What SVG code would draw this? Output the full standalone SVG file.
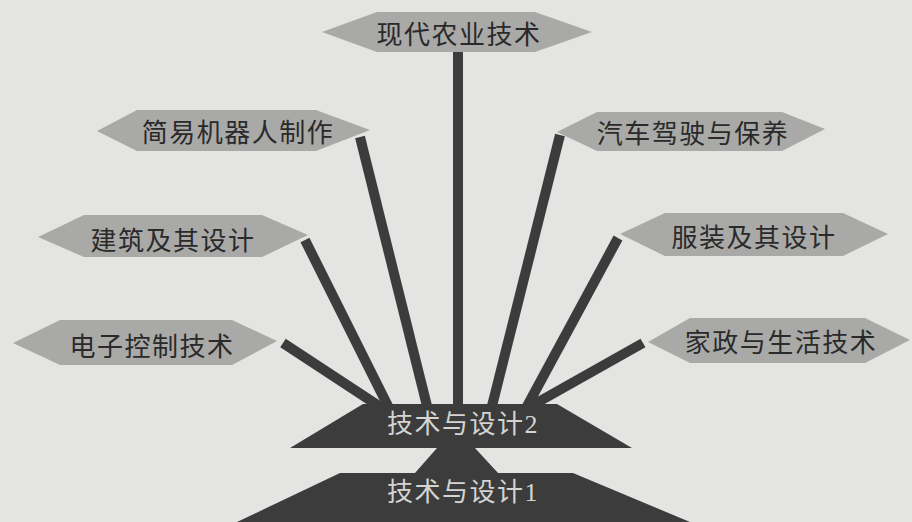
<svg xmlns="http://www.w3.org/2000/svg" width="912" height="522" viewBox="0 0 912 522">
<style>
.bg{fill:#e4e4e2}
.hex{fill:#a9a9a7}
.lbl{font-family:"Noto Sans CJK SC","Noto Sans",sans-serif;font-size:26px;letter-spacing:1.5px;fill:#2a2a2a;text-anchor:middle;dominant-baseline:central}
.base{fill:#3c3c3c}
.blbl{font-family:"Liberation Serif","Noto Sans CJK SC",serif;font-size:26px;letter-spacing:1.5px;fill:#d4d4d2;text-anchor:middle;dominant-baseline:central}
.con line{stroke:#3c3c3c;stroke-width:10;stroke-linecap:butt}
</style>
<rect class="bg" x="0" y="0" width="912" height="522"/>
<g id="connectors" class="con">
<line x1="458" y1="50" x2="458" y2="410"/>
<line x1="360" y1="137" x2="428" y2="410"/>
<line x1="305" y1="240" x2="390" y2="410"/>
<line x1="283" y1="343" x2="385" y2="410"/>
<line x1="560" y1="135" x2="491" y2="410"/>
<line x1="618" y1="238" x2="525" y2="410"/>
<line x1="643" y1="343" x2="524" y2="410"/>
</g>
<g id="node-xiandai">
<polygon class="hex" points="322,32 377,12 535,12 592,32 535,52 377,52"/>
<text class="lbl" x="459" y="32">现代农业技术</text>
</g>
<g id="node-jianyi">
<polygon class="hex" points="97,131 137,110 316,110 370,130 316,151 137,151"/>
<text class="lbl" x="238" y="130">简易机器人制作</text>
</g>
<g id="node-qiche">
<polygon class="hex" points="557,132 597,112 782,112 825,129 782,151 597,151"/>
<text class="lbl" x="693" y="131">汽车驾驶与保养</text>
</g>
<g id="node-jianzhu">
<polygon class="hex" points="38,237 84,215 262,215 308,235 262,257 84,257"/>
<text class="lbl" x="173" y="238">建筑及其设计</text>
</g>
<g id="node-fuzhuang">
<polygon class="hex" points="620,234 665,213 843,213 888,234 843,256 665,256"/>
<text class="lbl" x="754" y="235">服装及其设计</text>
</g>
<g id="node-dianzi">
<polygon class="hex" points="13,343 60,320 232,320 277,341 232,365 60,365"/>
<text class="lbl" x="152" y="344">电子控制技术</text>
</g>
<g id="node-jiazheng">
<polygon class="hex" points="648,342 690,318 865,318 910,340 865,363 690,363"/>
<text class="lbl" x="781" y="340">家政与生活技术</text>
</g>
<g id="node-design1">
<polygon class="base" points="237,522 340,473 415,473 437,448 475,448 498,473 573,473 690,522"/>
<text class="blbl" x="463" y="492">技术与设计1</text>
</g>
<g id="node-design2">
<polygon class="base" points="363,404 557,404 632,448 290,448"/>
<text class="blbl" x="463" y="424">技术与设计2</text>
</g>
</svg>
